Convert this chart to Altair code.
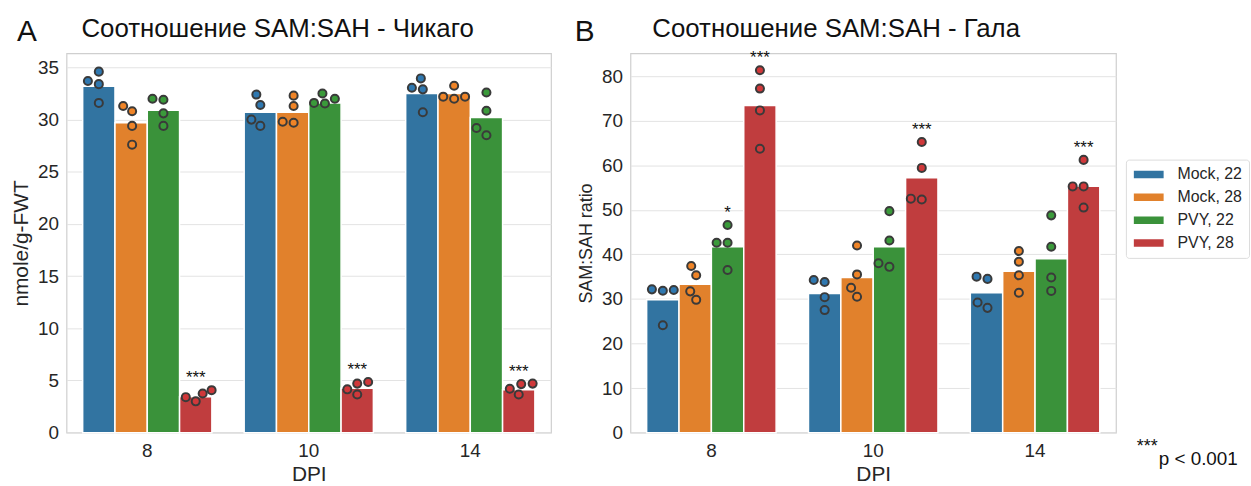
import altair as alt
import pandas as pd

DPI = ["8", "10", "14"]
GROUPS = ["Mock, 22", "Mock, 28", "PVY, 22", "PVY, 28"]
BAR_COLORS = ["#3274a1", "#e1812c", "#3a923a", "#c03d3e"]
PT_COLORS = ["#2f78b0", "#ef8427", "#3a9a3a", "#d0383a"]

# Chicago (nmole/g-FWT): bar heights [dpi][group]
CHI_BARS = [[33.2, 29.7, 30.9, 3.45],
            [30.7, 30.7, 31.6, 4.25],
            [32.5, 32.5, 30.2, 4.1]]
CHI_PTS = [
    [[33.7, 34.6, 33.4, 31.6], [31.3, 30.8, 29.4, 27.6], [32.0, 31.9, 30.6, 29.4], [3.4, 3.0, 3.75, 4.07]],
    [[32.4, 31.4, 30.0, 29.4], [32.3, 31.3, 29.8, 29.7], [31.6, 32.5, 31.55, 32.0], [4.15, 4.7, 3.65, 4.86]],
    [[33.05, 33.95, 32.9, 30.7], [32.2, 33.25, 32.0, 32.2], [32.6, 30.85, 29.2, 28.5], [4.2, 3.65, 4.65, 4.7]],
]
CHI_SIG = [["", "", "", "***"], ["", "", "", "***"], ["", "", "", "***"]]

# Gala (SAM:SAH ratio)
GALA_BARS = [[29.8, 33.3, 41.7, 73.4],
             [31.2, 34.8, 41.7, 57.2],
             [31.4, 36.2, 39.0, 55.3]]
GALA_PTS = [
    [[32.15, 31.85, 32.0, 24.1], [37.4, 35.3, 31.7, 29.8], [46.6, 42.6, 42.6, 36.5], [81.3, 77.2, 72.3, 63.7]],
    [[34.25, 33.8, 30.4, 27.5], [42.0, 35.5, 32.5, 30.5], [49.7, 43.1, 38.0, 37.2], [65.2, 59.4, 52.5, 52.3]],
    [[35.0, 34.5, 29.2, 28.0], [40.75, 38.35, 35.3, 31.4], [48.75, 41.7, 34.8, 31.8], [61.2, 55.25, 55.25, 50.5]],
]
GALA_SIG = [["", "", "*", "***"], ["", "", "", "***"], ["", "", "", "***"]]

# swarm dodge of the points (pixels from the bar centre), as seen in the picture
CHI_DODGE = [
    [[-11, 0, 0, 0], [-8, 1, 1, 1], [-11, 0, 0, 0], [-10, 0, 7, 16]],
    [[-4, 0, -9, 0], [1, 1, -10, 1], [-11, -2.5, 0, 10], [-10, 0, 0, 11]],
    [[-10, -1, 1, 1], [-11, 0, 0, 11], [0, 0, -10, 0], [-9, 0, 2.5, 14]],
]
GALA_DODGE = [
    [[-11, 0, 11, 0], [-4, 1, -5, 1], [0, -11, 0, 0], [0, 0, 0, 0]],
    [[-11, 0, 0, 0], [0, 0, -6, 0], [0, 0, -11, 0], [0, 0, -11, 0]],
    [[-10, 1, -9, 1], [0, 0, 0, 0], [0, 0, 0, 0], [0, -11, 0, 0]],
]

FONT = "Liberation Sans"
TXT = "#262626"


def panel(bars, pts, dodge, sig, W, H, ymax, ytitle, ytsize, letter, title,
          letter_x, title_x, show_legend):
    step = W / 3.0
    bar_rows, pt_rows, sig_rows = [], [], []
    for di, d in enumerate(DPI):
        for gi, g in enumerate(GROUPS):
            bar_rows.append({"dpi": d, "group": g, "value": bars[di][gi]})
            for k, v in enumerate(pts[di][gi]):
                pos = 0.1 + 0.2 * gi + 0.1 + dodge[di][gi][k] / step
                pt_rows.append({"dpi": d, "group": g, "value": v, "pos": pos,
                                "pc": PT_COLORS[gi]})
            if sig[di][gi]:
                sig_rows.append({"dpi": d, "label": sig[di][gi],
                                 "top": max(pts[di][gi]),
                                 "pos": 0.2 + 0.2 * gi})
    bdf = pd.DataFrame(bar_rows)
    pdf = pd.DataFrame(pt_rows)
    sdf = pd.DataFrame(sig_rows)

    xenc = alt.X("dpi:N", sort=DPI,
                 scale=alt.Scale(paddingInner=0, paddingOuter=0),
                 axis=alt.Axis(labelAngle=0, domain=False, ticks=False, grid=False,
                               labelFontSize=19, labelPadding=9, labelColor=TXT,
                               title="DPI", titleFontSize=21, titlePadding=3,
                               titleColor=TXT, titleFontWeight="normal"))
    yscale = alt.Scale(domain=[0, ymax], nice=False)
    yenc = alt.Y("value:Q", scale=yscale,
                 axis=alt.Axis(tickCount=10, grid=True, gridColor="#e3e3e3",
                               domain=False, ticks=False, labelFontSize=19,
                               labelPadding=8, labelColor=TXT, title=ytitle,
                               titleFontSize=ytsize, titlePadding=6,
                               titleColor=TXT, titleFontWeight="normal"))
    posoff = alt.XOffset("pos:Q", scale=alt.Scale(domain=[0, 1], range=[0, step]))

    legend = (alt.Legend(title=None, orient="none", legendX=W + 10, legendY=107,
                         labelFontSize=16, labelColor=TXT, labelFont=FONT,
                         symbolType="M-2,-0.5H2V0.5H-2Z", symbolSize=225,
                         symbolStrokeWidth=0, symbolOpacity=1, symbolOffset=8,
                         strokeColor="#dcdcdc", fillColor="white", padding=7,
                         rowPadding=7, clipHeight=16, cornerRadius=3,
                         labelOffset=21)
              if show_legend else None)

    bar = alt.Chart(bdf).mark_bar(stroke="white", strokeWidth=1.5).encode(
        x=xenc,
        xOffset=alt.XOffset("group:N", sort=GROUPS,
                            scale=alt.Scale(paddingInner=0, paddingOuter=0.5)),
        y=yenc,
        color=alt.Color("group:N", sort=GROUPS,
                        scale=alt.Scale(domain=GROUPS, range=BAR_COLORS),
                        legend=legend),
    )
    dots = alt.Chart(pdf).mark_circle(size=66, opacity=1, stroke="#3a3a3a",
                                      strokeWidth=2).encode(
        x=alt.X("dpi:N", sort=DPI),
        xOffset=posoff,
        y="value:Q",
        color=alt.Color("pc:N", scale=None),
    )
    stars = alt.Chart(sdf).mark_text(fontSize=17, dy=-12, baseline="middle",
                                     color="#111111", font=FONT).encode(
        x=alt.X("dpi:N", sort=DPI),
        xOffset=posoff,
        y="top:Q",
        text="label:N",
    )
    lab = alt.Chart(pd.DataFrame({"t": [letter]})).mark_text(
        align="left", baseline="middle", fontSize=30, font=FONT, color="#111111"
    ).encode(text="t:N", x=alt.value(letter_x), y=alt.value(-21))
    ttl = alt.Chart(pd.DataFrame({"t": [title]})).mark_text(
        align="left", baseline="middle", fontSize=26, font=FONT, color="#111111"
    ).encode(text="t:N", x=alt.value(title_x), y=alt.value(-24))
    layers = [bar, dots, stars, lab, ttl]
    return alt.layer(*layers).properties(width=W, height=H)


left = panel(CHI_BARS, CHI_PTS, CHI_DODGE, CHI_SIG, 488, 382, 36.35,
             "nmole/g-FWT", 21, "A", "Соотношение SAM:SAH - Чикаго", -50, 15, False)

right_base = panel(GALA_BARS, GALA_PTS, GALA_DODGE, GALA_SIG, 489, 382, 85.1,
                   "SAM:SAH ratio", 18, "B", "Соотношение SAM:SAH - Гала", -56, 22, True)

foot1 = alt.Chart(pd.DataFrame({"t": ["***"]})).mark_text(
    align="left", baseline="middle", fontSize=18, font=FONT, color="#111111"
).encode(text="t:N", x=alt.value(1141 - 631), y=alt.value(397))
foot2 = alt.Chart(pd.DataFrame({"t": ["p < 0.001"]})).mark_text(
    align="left", baseline="alphabetic", fontSize=19, font=FONT, color="#111111"
).encode(text="t:N", x=alt.value(1163 - 631), y=alt.value(415))
right = alt.layer(right_base, foot1, foot2)

chart = alt.hconcat(left, right, spacing=22).resolve_scale(
    color="independent"
).configure(
    font=FONT,
    padding={"left": 10, "top": 14, "right": 0, "bottom": 0},
).configure_view(stroke="#cfcfcf", strokeWidth=1.2)

chart.save("out.html", embed_options={"renderer": "svg", "actions": False})
